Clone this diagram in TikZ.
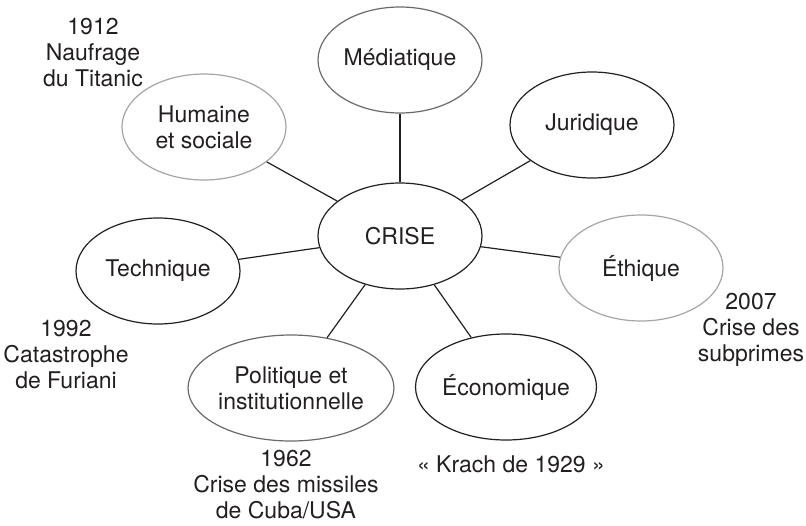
\documentclass[tikz,border=0pt]{standalone}
\usepackage{fontspec}
\setmainfont{TeX Gyre Heros}
\usetikzlibrary{shapes.geometric}
\definecolor{ink}{HTML}{231F20}
\definecolor{midgray}{HTML}{6A6A6A}
\definecolor{lightgray}{HTML}{A5A5A5}
\begin{document}
\begin{tikzpicture}[x=1pt,y=-1pt,
  every node/.style={font=\fontsize{23}{26}\selectfont, text=ink},
  bubble/.style={ellipse, draw=ink, line width=1.2pt, minimum width=164pt, minimum height=106pt, inner sep=0pt, align=center},
  darkbubble/.style={bubble, draw=midgray},
  palebubble/.style={bubble, draw=lightgray},
  note/.style={align=center, inner sep=0pt},
  link/.style={draw=ink, line width=1.2pt}]
\useasboundingbox (0,0) rectangle (806,525);
\node[bubble] (crise) at (400,236) {CRISE};
\node[darkbubble] (media) at (400,60) {Médiatique};
\node[bubble] (jur) at (592,125) {Juridique};
\node[palebubble] (hum) at (204,127) {Humaine\\et sociale};
\node[palebubble] (eth) at (641,268) {Éthique};
\node[bubble] (tech) at (158,271) {Technique};
\node[darkbubble] (pol) at (291,388) {Politique et\\institutionnelle};
\node[bubble] (eco) at (506,387) {Économique};
\path[link] (crise) -- (media);
\path[link] (crise) -- (jur);
\path[link] (crise) -- (hum);
\path[link] (crise) -- (eth);
\path[link] (crise) -- (tech);
\path[link] (crise) -- (pol);
\path[link] (crise) -- (eco);
\node[note] (n1912) at (93,53) {1912\\Naufrage\\du Titanic};
\node[note] (n2007) at (751,330) {2007\\Crise des\\subprimes};
\node[note] (n1992) at (66,355) {1992\\Catastrophe\\de Furiani};
\node[note] (n1962) at (286,485) {1962\\Crise des missiles\\de Cuba/USA};
\node[note] (n1929) at (511,464) {« Krach de 1929 »};
\end{tikzpicture}
\end{document}
